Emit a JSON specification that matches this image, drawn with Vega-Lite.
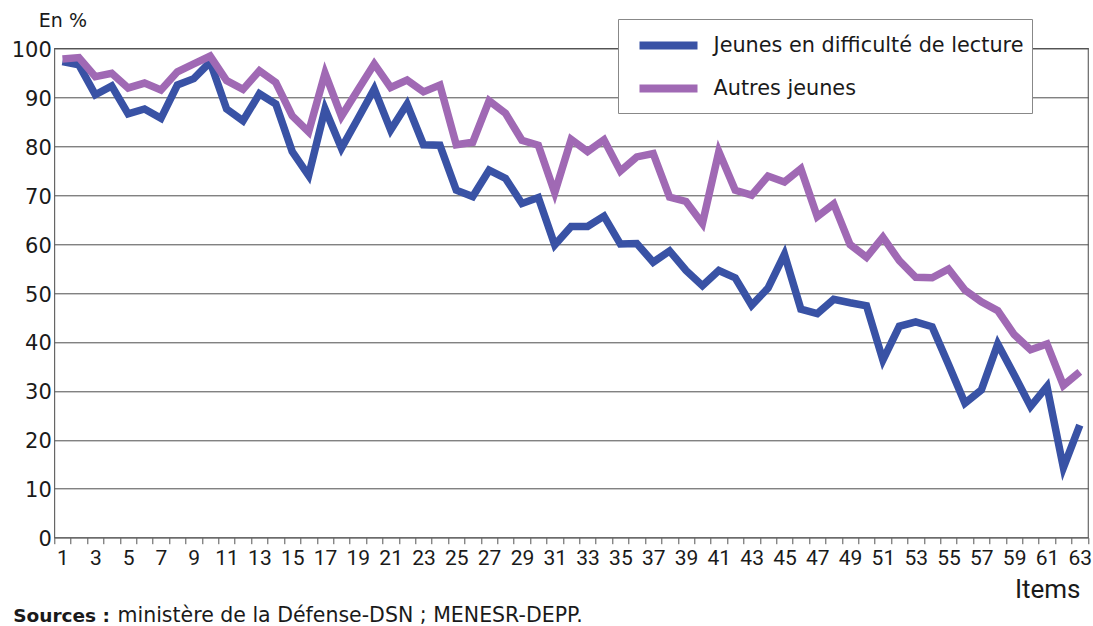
{
  "$schema": "https://vega.github.io/schema/vega-lite/v6.json",
  "width": 1033.7,
  "height": 489.4,
  "autosize": {"type": "none"},
  "padding": {"left": 54.3, "top": 48.3, "right": 5, "bottom": 88.3},
  "background": "white",
  "config": {"view": {"stroke": "#666", "strokeWidth": 1.2}, "font": "DejaVu Sans"},
  "title": {
    "text": "Sources :",
    "subtitle": "\u200b\u00a0\u00a0\u00a0\u00a0\u00a0\u00a0\u00a0\u00a0\u00a0\u00a0\u00a0\u00a0\u00a0\u00a0\u00a0\u00a0ministère de la Défense-DSN ; MENESR-DEPP.",
    "orient": "bottom",
    "anchor": "start",
    "frame": "bounds",
    "font": "DejaVu Sans",
    "fontSize": 18.5,
    "fontWeight": "bold",
    "color": "#1a1a1a",
    "subtitleFont": "DejaVu Sans",
    "subtitleFontSize": 20.5,
    "subtitleFontWeight": "normal",
    "subtitleColor": "#1a1a1a",
    "subtitlePadding": -19.5,
    "offset": 4,
    "dx": 2
  },
  "data": {
    "values": [
      {"item": 1, "serie": "Jeunes en difficulté de lecture", "pct": 97.3},
      {"item": 2, "serie": "Jeunes en difficulté de lecture", "pct": 96.6},
      {"item": 3, "serie": "Jeunes en difficulté de lecture", "pct": 90.5},
      {"item": 4, "serie": "Jeunes en difficulté de lecture", "pct": 92.3},
      {"item": 5, "serie": "Jeunes en difficulté de lecture", "pct": 86.6},
      {"item": 6, "serie": "Jeunes en difficulté de lecture", "pct": 87.6},
      {"item": 7, "serie": "Jeunes en difficulté de lecture", "pct": 85.7},
      {"item": 8, "serie": "Jeunes en difficulté de lecture", "pct": 92.5},
      {"item": 9, "serie": "Jeunes en difficulté de lecture", "pct": 93.8},
      {"item": 10, "serie": "Jeunes en difficulté de lecture", "pct": 97.2},
      {"item": 11, "serie": "Jeunes en difficulté de lecture", "pct": 87.6},
      {"item": 12, "serie": "Jeunes en difficulté de lecture", "pct": 85.2},
      {"item": 13, "serie": "Jeunes en difficulté de lecture", "pct": 90.7},
      {"item": 14, "serie": "Jeunes en difficulté de lecture", "pct": 88.6},
      {"item": 15, "serie": "Jeunes en difficulté de lecture", "pct": 78.9},
      {"item": 16, "serie": "Jeunes en difficulté de lecture", "pct": 74.0},
      {"item": 17, "serie": "Jeunes en difficulté de lecture", "pct": 87.6},
      {"item": 18, "serie": "Jeunes en difficulté de lecture", "pct": 79.6},
      {"item": 19, "serie": "Jeunes en difficulté de lecture", "pct": 85.6},
      {"item": 20, "serie": "Jeunes en difficulté de lecture", "pct": 91.7},
      {"item": 21, "serie": "Jeunes en difficulté de lecture", "pct": 83.3},
      {"item": 22, "serie": "Jeunes en difficulté de lecture", "pct": 88.6},
      {"item": 23, "serie": "Jeunes en difficulté de lecture", "pct": 80.3},
      {"item": 24, "serie": "Jeunes en difficulté de lecture", "pct": 80.2},
      {"item": 25, "serie": "Jeunes en difficulté de lecture", "pct": 71.0},
      {"item": 26, "serie": "Jeunes en difficulté de lecture", "pct": 69.7},
      {"item": 27, "serie": "Jeunes en difficulté de lecture", "pct": 75.1},
      {"item": 28, "serie": "Jeunes en difficulté de lecture", "pct": 73.4},
      {"item": 29, "serie": "Jeunes en difficulté de lecture", "pct": 68.3},
      {"item": 30, "serie": "Jeunes en difficulté de lecture", "pct": 69.5},
      {"item": 31, "serie": "Jeunes en difficulté de lecture", "pct": 59.8},
      {"item": 32, "serie": "Jeunes en difficulté de lecture", "pct": 63.6},
      {"item": 33, "serie": "Jeunes en difficulté de lecture", "pct": 63.6},
      {"item": 34, "serie": "Jeunes en difficulté de lecture", "pct": 65.7},
      {"item": 35, "serie": "Jeunes en difficulté de lecture", "pct": 60.0},
      {"item": 36, "serie": "Jeunes en difficulté de lecture", "pct": 60.1},
      {"item": 37, "serie": "Jeunes en difficulté de lecture", "pct": 56.3},
      {"item": 38, "serie": "Jeunes en difficulté de lecture", "pct": 58.6},
      {"item": 39, "serie": "Jeunes en difficulté de lecture", "pct": 54.6},
      {"item": 40, "serie": "Jeunes en difficulté de lecture", "pct": 51.5},
      {"item": 41, "serie": "Jeunes en difficulté de lecture", "pct": 54.6},
      {"item": 42, "serie": "Jeunes en difficulté de lecture", "pct": 53.1},
      {"item": 43, "serie": "Jeunes en difficulté de lecture", "pct": 47.5},
      {"item": 44, "serie": "Jeunes en difficulté de lecture", "pct": 51.0},
      {"item": 45, "serie": "Jeunes en difficulté de lecture", "pct": 57.9},
      {"item": 46, "serie": "Jeunes en difficulté de lecture", "pct": 46.7},
      {"item": 47, "serie": "Jeunes en difficulté de lecture", "pct": 45.8},
      {"item": 48, "serie": "Jeunes en difficulté de lecture", "pct": 48.7},
      {"item": 49, "serie": "Jeunes en difficulté de lecture", "pct": 48.0},
      {"item": 50, "serie": "Jeunes en difficulté de lecture", "pct": 47.4},
      {"item": 51, "serie": "Jeunes en difficulté de lecture", "pct": 36.3},
      {"item": 52, "serie": "Jeunes en difficulté de lecture", "pct": 43.2},
      {"item": 53, "serie": "Jeunes en difficulté de lecture", "pct": 44.1},
      {"item": 54, "serie": "Jeunes en difficulté de lecture", "pct": 43.1},
      {"item": 55, "serie": "Jeunes en difficulté de lecture", "pct": 35.4},
      {"item": 56, "serie": "Jeunes en difficulté de lecture", "pct": 27.5},
      {"item": 57, "serie": "Jeunes en difficulté de lecture", "pct": 30.2},
      {"item": 58, "serie": "Jeunes en difficulté de lecture", "pct": 39.6},
      {"item": 59, "serie": "Jeunes en difficulté de lecture", "pct": 33.3},
      {"item": 60, "serie": "Jeunes en difficulté de lecture", "pct": 26.8},
      {"item": 61, "serie": "Jeunes en difficulté de lecture", "pct": 30.9},
      {"item": 62, "serie": "Jeunes en difficulté de lecture", "pct": 14.3},
      {"item": 63, "serie": "Jeunes en difficulté de lecture", "pct": 23.0},
      {"item": 1, "serie": "Autres jeunes", "pct": 97.8},
      {"item": 2, "serie": "Autres jeunes", "pct": 98.1},
      {"item": 3, "serie": "Autres jeunes", "pct": 94.2},
      {"item": 4, "serie": "Autres jeunes", "pct": 94.9},
      {"item": 5, "serie": "Autres jeunes", "pct": 91.9},
      {"item": 6, "serie": "Autres jeunes", "pct": 92.9},
      {"item": 7, "serie": "Autres jeunes", "pct": 91.5},
      {"item": 8, "serie": "Autres jeunes", "pct": 95.2},
      {"item": 9, "serie": "Autres jeunes", "pct": 96.8},
      {"item": 10, "serie": "Autres jeunes", "pct": 98.4},
      {"item": 11, "serie": "Autres jeunes", "pct": 93.4},
      {"item": 12, "serie": "Autres jeunes", "pct": 91.6},
      {"item": 13, "serie": "Autres jeunes", "pct": 95.4},
      {"item": 14, "serie": "Autres jeunes", "pct": 93.0},
      {"item": 15, "serie": "Autres jeunes", "pct": 86.2},
      {"item": 16, "serie": "Autres jeunes", "pct": 82.9},
      {"item": 17, "serie": "Autres jeunes", "pct": 94.9},
      {"item": 18, "serie": "Autres jeunes", "pct": 86.1},
      {"item": 19, "serie": "Autres jeunes", "pct": 91.5},
      {"item": 20, "serie": "Autres jeunes", "pct": 96.8},
      {"item": 21, "serie": "Autres jeunes", "pct": 92.0},
      {"item": 22, "serie": "Autres jeunes", "pct": 93.5},
      {"item": 23, "serie": "Autres jeunes", "pct": 91.1},
      {"item": 24, "serie": "Autres jeunes", "pct": 92.5},
      {"item": 25, "serie": "Autres jeunes", "pct": 80.3},
      {"item": 26, "serie": "Autres jeunes", "pct": 80.8},
      {"item": 27, "serie": "Autres jeunes", "pct": 89.3},
      {"item": 28, "serie": "Autres jeunes", "pct": 86.7},
      {"item": 29, "serie": "Autres jeunes", "pct": 81.2},
      {"item": 30, "serie": "Autres jeunes", "pct": 80.2},
      {"item": 31, "serie": "Autres jeunes", "pct": 70.5},
      {"item": 32, "serie": "Autres jeunes", "pct": 81.4},
      {"item": 33, "serie": "Autres jeunes", "pct": 78.9},
      {"item": 34, "serie": "Autres jeunes", "pct": 81.3},
      {"item": 35, "serie": "Autres jeunes", "pct": 74.9},
      {"item": 36, "serie": "Autres jeunes", "pct": 77.8},
      {"item": 37, "serie": "Autres jeunes", "pct": 78.5},
      {"item": 38, "serie": "Autres jeunes", "pct": 69.6},
      {"item": 39, "serie": "Autres jeunes", "pct": 68.7},
      {"item": 40, "serie": "Autres jeunes", "pct": 64.2},
      {"item": 41, "serie": "Autres jeunes", "pct": 78.9},
      {"item": 42, "serie": "Autres jeunes", "pct": 71.0},
      {"item": 43, "serie": "Autres jeunes", "pct": 70.0},
      {"item": 44, "serie": "Autres jeunes", "pct": 73.9},
      {"item": 45, "serie": "Autres jeunes", "pct": 72.7},
      {"item": 46, "serie": "Autres jeunes", "pct": 75.4},
      {"item": 47, "serie": "Autres jeunes", "pct": 65.6},
      {"item": 48, "serie": "Autres jeunes", "pct": 68.2},
      {"item": 49, "serie": "Autres jeunes", "pct": 59.9},
      {"item": 50, "serie": "Autres jeunes", "pct": 57.3},
      {"item": 51, "serie": "Autres jeunes", "pct": 61.4},
      {"item": 52, "serie": "Autres jeunes", "pct": 56.6},
      {"item": 53, "serie": "Autres jeunes", "pct": 53.2},
      {"item": 54, "serie": "Autres jeunes", "pct": 53.1},
      {"item": 55, "serie": "Autres jeunes", "pct": 54.9},
      {"item": 56, "serie": "Autres jeunes", "pct": 50.6},
      {"item": 57, "serie": "Autres jeunes", "pct": 48.2},
      {"item": 58, "serie": "Autres jeunes", "pct": 46.4},
      {"item": 59, "serie": "Autres jeunes", "pct": 41.5},
      {"item": 60, "serie": "Autres jeunes", "pct": 38.4},
      {"item": 61, "serie": "Autres jeunes", "pct": 39.6},
      {"item": 62, "serie": "Autres jeunes", "pct": 31.1},
      {"item": 63, "serie": "Autres jeunes", "pct": 33.9}
    ]
  },
  "mark": {"type": "line", "strokeWidth": 7.5, "strokeJoin": "miter"},
  "encoding": {
    "x": {
      "field": "item",
      "type": "ordinal",
      "bandPosition": 0.5,
      "scale": {"type": "band", "paddingInner": 0, "paddingOuter": 0},
      "axis": {
        "title": "Items",
        "titleFont": "Roboto",
        "titleFontSize": 26,
        "titleFontWeight": "normal",
        "titleColor": "#1a1a1a",
        "titleAlign": "right",
        "titleBaseline": "middle",
        "titleX": 1025.7,
        "titleY": 52,
        "labelExpr": "datum.value % 2 == 1 ? datum.label : ''",
        "labelOverlap": false,
        "labelAngle": 0,
        "labelFont": "Liberation Sans Narrow, Roboto",
        "labelFontSize": 21,
        "labelColor": "#1a1a1a",
        "labelPadding": 4,
        "tickBand": "extent",
        "ticks": true,
        "tickSize": 6,
        "tickColor": "#555",
        "domain": false,
        "grid": false
      }
    },
    "y": {
      "field": "pct",
      "type": "quantitative",
      "scale": {"domain": [0, 100], "nice": false},
      "axis": {
        "values": [0, 10, 20, 30, 40, 50, 60, 70, 80, 90, 100],
        "title": "En %",
        "titleAngle": 0,
        "titleX": -16,
        "titleY": -28,
        "titleAlign": "left",
        "titleBaseline": "middle",
        "titleFont": "DejaVu Sans",
        "titleFontSize": 19,
        "titleFontWeight": "normal",
        "titleColor": "#1a1a1a",
        "labelFont": "DejaVu Sans",
        "labelFontSize": 21,
        "labelColor": "#1a1a1a",
        "labelPadding": 3,
        "labelOffset": 2,
        "ticks": false,
        "domain": false,
        "grid": true,
        "gridColor": "#4d4d4d",
        "gridWidth": 1
      }
    },
    "color": {
      "field": "serie",
      "type": "nominal",
      "scale": {
        "domain": ["Jeunes en difficulté de lecture", "Autres jeunes"],
        "range": ["#3952a5", "#a069b4"]
      },
      "legend": {
        "orient": "none",
        "legendX": 563.7,
        "legendY": -29.3,
        "title": null,
        "symbolType": "M-2,0L2,0",
        "symbolSize": 841,
        "symbolStrokeWidth": 8,
        "labelFont": "DejaVu Sans",
        "labelFontSize": 20.8,
        "labelColor": "#1a1a1a",
        "labelOffset": 26.5,
        "labelLimit": 500,
        "symbolOffset": 24,
        "padding": 8,
        "rowPadding": 8,
        "strokeColor": "#888",
        "fillColor": "white"
      }
    }
  }
}
